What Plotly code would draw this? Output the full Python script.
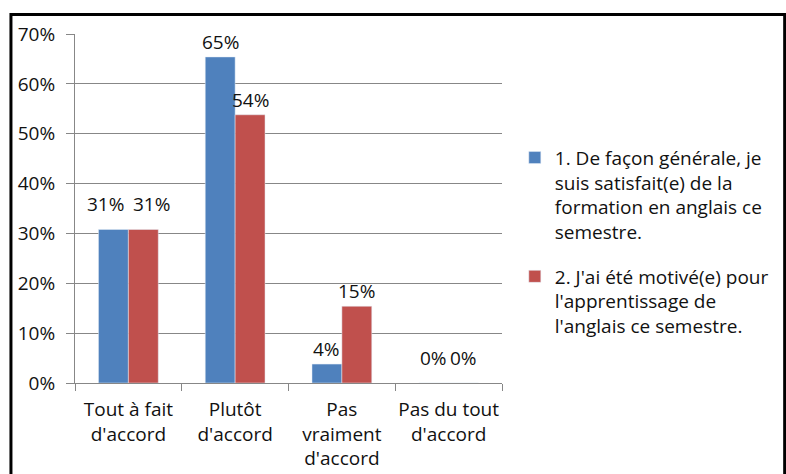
import plotly.graph_objects as go

categories = ["Tout à fait<br>d'accord", "Plutôt<br>d'accord", "Pas<br>vraiment<br>d'accord", "Pas du tout<br>d'accord"]
series1_name = "1. De façon générale, je<br>suis satisfait(e) de la<br>formation en anglais ce<br>semestre."
series2_name = "2. J'ai été motivé(e) pour<br>l'apprentissage de<br>l'anglais ce semestre."
series1 = [0.308, 0.654, 0.038, 0.0]
series2 = [0.308, 0.538, 0.154, 0.0]
y_ticks = [0, 0.1, 0.2, 0.3, 0.4, 0.5, 0.6, 0.7]

FONT = "Open Sans"
FS = 19
GRID = "#878787"
TXT = "#111"
BAR_HALF_PX = 15  # half of one bar's drawn width in pixels (for label placement)

fig = go.Figure()
fig.add_trace(go.Bar(x=categories, y=series1, name=series1_name, marker_color="#4F81BD",
                     legendgroup="a", hoverinfo="x+y"))
fig.add_trace(go.Bar(x=categories, y=series2, name=series2_name, marker_color="#C0504D",
                     legendgroup="b", hoverinfo="x+y"))

# data labels, placed above each bar through the axes (spread apart when they would collide)
annotations = []
for cat, v1, v2 in zip(categories, series1, series2):
    t1, t2 = f"{round(v1*100)}%", f"{round(v2*100)}%"
    tie = abs(v1 - v2) < 0.03
    est_w = max(len(t1), len(t2)) * 12.5
    spread = ((est_w - 2 * BAR_HALF_PX) / 2 + 4) if (tie and est_w > 2 * BAR_HALF_PX) else 0
    lift = 10 if tie else 0
    for val, txt, side in ((v1, t1, -1), (v2, t2, 1)):
        annotations.append(dict(x=cat, y=val, xref="x", yref="y", text=txt, showarrow=False,
                                yanchor="bottom", xshift=side * (BAR_HALF_PX + spread), yshift=lift,
                                font=dict(family=FONT, size=FS, color=TXT)))

fig.update_layout(
    width=786, height=474,
    margin=dict(l=75, r=284, t=34, b=91, autoexpand=False),
    paper_bgcolor="white", plot_bgcolor="white",
    font=dict(family=FONT, size=FS, color=TXT),
    barmode="group", bargap=0.44, bargroupgap=0,
    showlegend=True,
    legend=dict(x=1.03, xanchor="left", y=0.70, yanchor="top", valign="top",
                tracegroupgap=17, font=dict(family=FONT, size=FS, color=TXT),
                bgcolor="rgba(0,0,0,0)"),
    xaxis=dict(showline=True, linecolor=GRID, linewidth=1, ticks="outside", ticklen=7,
               tickcolor=GRID, tickson="boundaries", showgrid=False, ticklabelstandoff=9,
               tickangle=0),
    yaxis=dict(range=[0, 0.7], tickvals=y_ticks, tickformat=".0%", showline=True,
               linecolor=GRID, linewidth=1, ticks="outside", ticklen=8, tickcolor=GRID,
               showgrid=True, gridcolor=GRID, gridwidth=1, zeroline=False, ticklabelstandoff=7),
    annotations=annotations,
    shapes=[dict(type="rect", xref="paper", yref="paper", x0=-0.150, x1=1.662, y0=-0.3, y1=1.056,
                 line=dict(color="black", width=3), fillcolor="rgba(0,0,0,0)", layer="below")],
)

fig.write_html("out.html", config={"displayModeBar": False},
               post_script="document.body.style.margin='0px';")
